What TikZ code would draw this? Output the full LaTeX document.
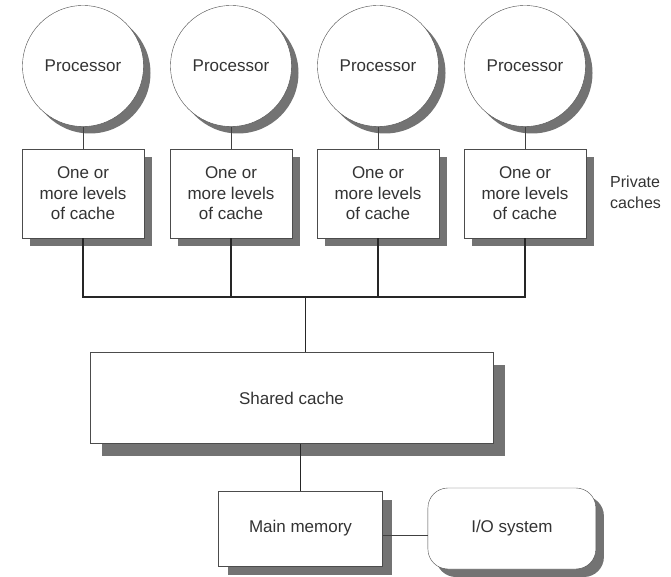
\documentclass[tikz,border=0pt]{standalone}
\usepackage{fontspec}
\setmainfont{Liberation Sans}
\usetikzlibrary{shadows, positioning, calc}

\begin{document}
\begin{tikzpicture}[
        x=1pt, y=-1pt,
        % --- STILURI ---
        % 1. Procesoarele: cerc cu umbra
        cpu/.style={
                circle,
                draw=black!70,
                fill=white,
                minimum size=121pt,
                inner sep=0pt,
                text=black!80,
                font=\fontsize{17}{20}\selectfont,
                drop shadow={shadow xshift=7pt, shadow yshift=-7pt, opacity=1, fill=black!55}
            },
        % 2. Cutiile (cache, memorie)
        unit/.style={
                draw=black!70,
                fill=white,
                inner sep=0pt,
                align=center,
                text=black!80,
                font=\fontsize{17}{20.5}\selectfont,
                drop shadow={shadow xshift=#1pt, shadow yshift=-#1pt, opacity=1, fill=black!55}
            },
        unit/.default=8,
        % 3. Liniile
        bus/.style={line width=1.6pt, black!85},
        link/.style={line width=0.8pt, black!75}
    ]

    \useasboundingbox (0,0) rectangle (671,577);

    % 1. Procesoarele si cache-urile private
    \foreach \i/\x in {1/83, 2/231, 3/378, 4/525} {
            \node[cpu] (p\i) at (\x,66) {Processor};
            \node[unit, minimum width=122pt, minimum height=89pt] (c\i) at (\x,193.5)
            {One or\\more levels\\of cache};
            \draw[link] (p\i) -- (c\i);
        }

    \node[anchor=north west, align=left, inner sep=0pt, text=black!80,
        font=\fontsize{16}{20.5}\selectfont] (priv) at (610,176) {Private\\caches};

    % 2. Magistrala
    \coordinate (bus) at (305.5,297);
    \foreach \i in {1,...,4}
    \draw[bus] (c\i.south) |- (bus);

    % 3. Cache-ul partajat
    \node[unit=12, minimum width=403pt, minimum height=91pt] (shared) at (291.5,398) {Shared cache};
    \draw[bus] (bus) -- (bus |- shared.north);

    % 4. Memoria si I/O
    \node[unit=9, minimum width=164pt, minimum height=75pt] (mem) at (300.5,528.5) {Main memory};
    \node[unit=8, rounded corners=20pt, minimum width=168pt, minimum height=81pt,
        right=45pt of mem] (io) {I/O system};
    \draw[bus] (mem.north) -- (mem.north |- shared.south);
    \draw[link] ([yshift=-7pt]mem.east) -- ([yshift=-7pt]mem.east -| io.west);

\end{tikzpicture}
\end{document}
